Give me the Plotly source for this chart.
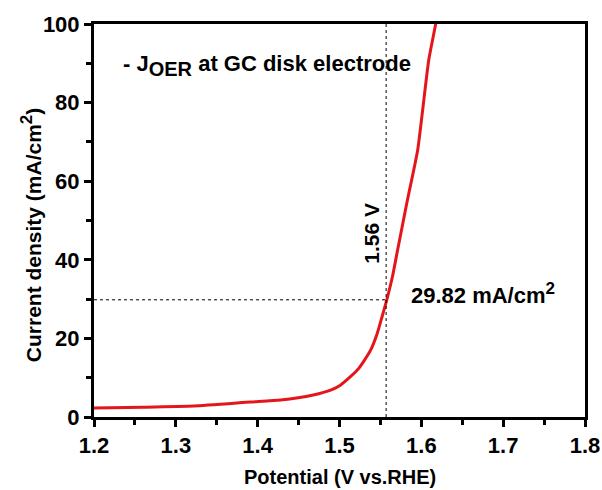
import plotly.graph_objects as go

potential = [1.200, 1.260, 1.322, 1.391, 1.428, 1.468, 1.490, 1.501, 1.512, 1.522, 1.530, 1.538, 1.546, 1.552, 1.558, 1.565, 1.571, 1.583, 1.5955, 1.609, 1.6175, 1.620]
current = [2.3, 2.5, 2.8, 3.8, 4.3, 5.6, 6.9, 8.1, 10.0, 12.0, 14.3, 17.0, 21.2, 25.5, 30.0, 36.0, 42.5, 55.2, 67.9, 90.8, 100.0, 104.0]

mark_v = 1.557
mark_j = 29.82

FONT = "Arial, Liberation Sans, sans-serif"
def txt(size):
    return dict(family=FONT, size=size, color="black", weight="bold")

fig = go.Figure()
fig.add_trace(go.Scatter(x=potential, y=current, mode="lines",
                         line=dict(color="#e5161b", width=3, shape="spline", smoothing=0.5),
                         showlegend=False, hoverinfo="skip"))
fig.add_trace(go.Scatter(x=[1.2, mark_v], y=[mark_j, mark_j], mode="lines",
                         line=dict(color="black", width=1, dash="3px,3px"),
                         showlegend=False, hoverinfo="skip"))
fig.add_trace(go.Scatter(x=[mark_v, mark_v], y=[0, 100], mode="lines",
                         line=dict(color="black", width=1, dash="3px,3px"),
                         showlegend=False, hoverinfo="skip"))

axis_common = dict(showline=True, linecolor="black", linewidth=3, mirror=True,
                   ticks="outside", ticklen=7, tickwidth=3, tickcolor="black",
                   showgrid=False, zeroline=False, automargin=False,
                   tickfont=txt(22))

fig.update_xaxes(range=[1.2, 1.8], tick0=1.2, dtick=0.1, tickformat=".1f",
                 minor=dict(ticks="outside", dtick=0.05, tick0=1.2, ticklen=5, tickwidth=3, tickcolor="black"),
                 **axis_common)
fig.update_yaxes(range=[0, 100], tick0=0, dtick=20,
                 minor=dict(ticks="outside", dtick=10, tick0=0, ticklen=5, tickwidth=3, tickcolor="black"),
                 **axis_common)

SUP2 = "<sup><span style='font-size:17px'>2</span></sup>"

fig.add_annotation(x=0.5, y=-0.153, xref="paper", yref="paper", xanchor="center", yanchor="middle",
                   text="Potential (V vs.RHE)", showarrow=False, font=txt(20))
fig.add_annotation(x=-0.128, y=0.463, xref="paper", yref="paper", xanchor="center", yanchor="middle",
                   text="Current density (mA/cm" + SUP2 + ")", textangle=-90, showarrow=False, font=txt(21))

fig.add_annotation(x=0.055, y=89.5, xref="paper", yref="y", xanchor="left", yanchor="middle",
                   text="- J<sub><span style='font-size:20px'>OER</span></sub> at GC disk electrode",
                   showarrow=False, font=txt(22))
fig.add_annotation(x=1.538, y=46.8, xref="x", yref="y", xanchor="center", yanchor="middle",
                   text="1.56 V", textangle=-90, showarrow=False, font=txt(21))
fig.add_annotation(x=1.5845, y=30.5, xref="x", yref="y", xanchor="left", yanchor="middle",
                   yshift=4, text="29.82 mA/cm" + SUP2, showarrow=False, font=txt(22))

fig.update_layout(width=602, height=490, paper_bgcolor="white", plot_bgcolor="white",
                  margin=dict(l=94, r=17, t=24, b=73))

fig.write_html("out.html", post_script="document.body.style.margin='0';",
               config={"displayModeBar": False})
